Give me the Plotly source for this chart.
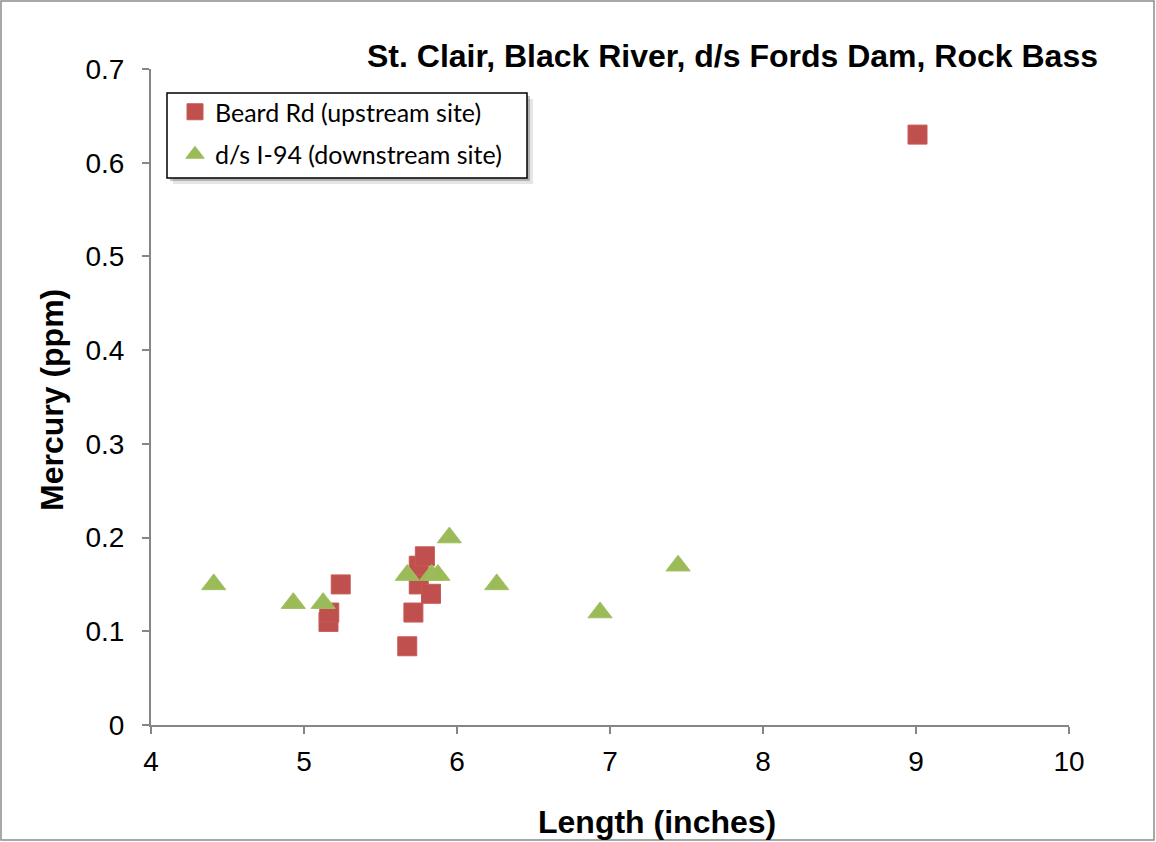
import plotly.graph_objects as go

beard_x = [5.24, 5.16, 5.165, 5.675, 5.715, 5.75, 5.75, 5.79, 5.83, 9.01]
beard_y = [0.15, 0.11, 0.12, 0.084, 0.12, 0.17, 0.15, 0.18, 0.14, 0.63]

i94_x = [4.41, 4.93, 5.125, 5.675, 5.835, 5.875, 5.95, 6.26, 6.935, 7.445]
i94_y = [0.15, 0.13, 0.13, 0.16, 0.16, 0.16, 0.20, 0.15, 0.12, 0.17]

title = "St. Clair, Black River, d/s Fords Dam, Rock Bass"
x_title = "Length (inches)"
y_title = "Mercury (ppm)"
names = ["Beard Rd (upstream site)", "d/s I-94 (downstream site)"]

L, R, T, B = 151, 87, 69, 117
W, H = 1156, 842
pw, ph = W - L - R, H - T - B

def px(xp):
    return (xp - L) / pw

def py(yp):
    return (H - B - yp) / ph

fig = go.Figure()
fig.add_trace(go.Scatter(x=beard_x, y=beard_y, mode="markers", name=names[0],
                         legendgroup="a",
                         marker=dict(symbol="square", size=19, color="#C0504D",
                                     line=dict(width=1, color="#C65A57"))))
fig.add_trace(go.Scatter(x=i94_x, y=i94_y, mode="markers", name=names[1],
                         legendgroup="b",
                         marker=dict(symbol="triangle-up", size=21, color="#9BBB59",
                                     line=dict(width=1, color="#A2C062"))))

axis_font = dict(family="Liberation Sans, Arial", size=28, color="black")
fig.update_layout(
    width=W, height=H,
    margin=dict(l=L, r=R, t=T, b=B),
    paper_bgcolor="white", plot_bgcolor="white",
    showlegend=True,
    legend=dict(x=px(175), y=py(89), xanchor="left", yanchor="top",
                bgcolor="rgba(0,0,0,0)", borderwidth=0,
                font=dict(family="Lato, Open Sans", size=25, color="black"),
                tracegroupgap=7, itemsizing="trace"),
    xaxis=dict(range=[4, 10], dtick=1, showgrid=False, zeroline=False,
               showline=True, linecolor="#868686", linewidth=2,
               ticks="outside", ticklen=7, tickcolor="#868686", tickwidth=2,
               ticklabelstandoff=3, tickfont=axis_font),
    yaxis=dict(range=[0, 0.7], dtick=0.1, showgrid=False, zeroline=False,
               showline=True, linecolor="#868686", linewidth=2,
               ticks="outside", ticklen=7, tickcolor="#868686", tickwidth=2,
               ticklabelstandoff=12, tickfont=axis_font),
)

fig.add_annotation(text="<b>" + title + "</b>", xref="paper", yref="paper",
                   x=px(1100), y=py(56), xanchor="right", yanchor="middle",
                   showarrow=False,
                   font=dict(family="Liberation Sans, Arial", size=32, color="black"))
fig.add_annotation(text="<b>" + x_title + "</b>", xref="paper", yref="paper",
                   x=px(657), y=py(822), xanchor="center", yanchor="middle",
                   showarrow=False,
                   font=dict(family="Liberation Sans, Arial", size=32, color="black"))
fig.add_annotation(text="<b>" + y_title + "</b>", xref="paper", yref="paper",
                   x=px(52), y=py(400), xanchor="center", yanchor="middle",
                   textangle=-90, showarrow=False,
                   font=dict(family="Liberation Sans, Arial", size=32, color="black"))

# legend shadow + box
fig.add_shape(type="rect", xref="paper", yref="paper",
              x0=px(173), x1=px(533), y0=py(99), y1=py(184),
              fillcolor="rgba(0,0,0,0.10)", line=dict(width=0), layer="above")
fig.add_shape(type="rect", xref="paper", yref="paper",
              x0=px(170), x1=px(530), y0=py(96), y1=py(181),
              fillcolor="rgba(0,0,0,0.22)", line=dict(width=0), layer="above")
fig.add_shape(type="rect", xref="paper", yref="paper",
              x0=px(167), x1=px(527), y0=py(93), y1=py(178),
              fillcolor="white", line=dict(width=1.5, color="black"), layer="above")
# chart border
fig.add_shape(type="rect", xref="paper", yref="paper",
              x0=px(1), x1=px(1154), y0=py(1), y1=py(840),
              line=dict(color="#8C8C8C", width=1.5), layer="below")

fig.write_html("out.html", config={"displayModeBar": False},
               post_script="document.body.style.margin='0';")
